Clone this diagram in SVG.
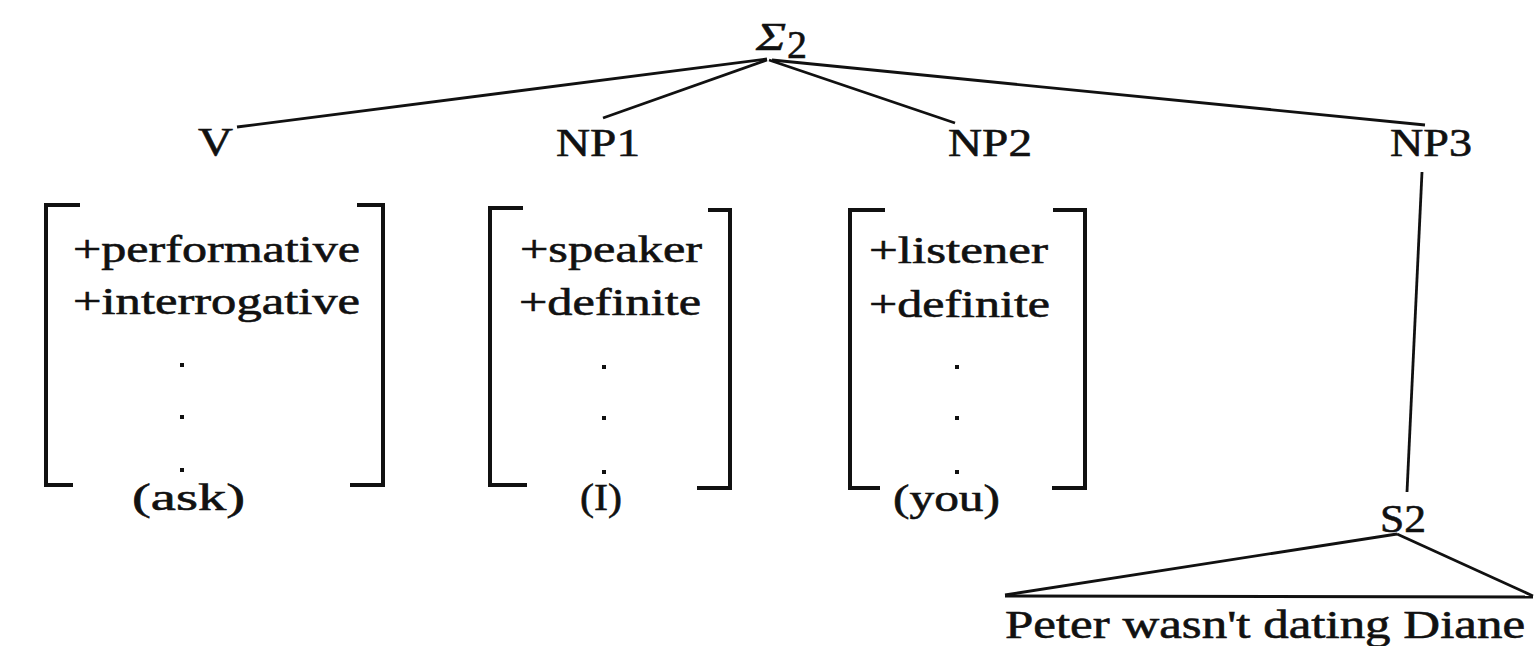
<svg xmlns="http://www.w3.org/2000/svg" width="1536" height="646" viewBox="0 0 1536 646">
<style>
.t{font-family:"Liberation Serif","DejaVu Serif",serif;fill:#111;stroke:#111;stroke-width:0.6;font-size:40px}
.f{font-size:38px}
.br{fill:none;stroke:#111;stroke-width:4}
.ln{stroke:#111;stroke-width:2.8;fill:none}
.dot{fill:#111}
</style>
<rect width="1536" height="646" fill="#fff"/>
<g id="connectors">
<line class="ln" x1="767" y1="59" x2="237" y2="127"/>
<line class="ln" x1="767" y1="60" x2="603" y2="118" stroke-width="4"/>
<line class="ln" x1="769" y1="60" x2="955" y2="123"/>
<line class="ln" x1="772" y1="60" x2="1425" y2="125"/>
<line class="ln" x1="1422" y1="172" x2="1407" y2="492"/>
<line class="ln" x1="1397" y1="534" x2="1005" y2="595" stroke-width="3"/>
<line class="ln" x1="1397" y1="534" x2="1533" y2="596"/>
<line class="ln" x1="1005" y1="596" x2="1533" y2="597"/>
</g>
<g id="sigma2">
<text class="t" x="756" y="50" font-style="italic" font-size="36" textLength="30" lengthAdjust="spacingAndGlyphs">Σ</text>
<text class="t" x="787" y="58" font-size="20">2</text>
</g>
<g id="V"><text class="t" x="198" y="155" textLength="35" lengthAdjust="spacingAndGlyphs">V</text></g>
<g id="NP1"><text class="t" x="556" y="156" textLength="84" lengthAdjust="spacingAndGlyphs">NP1</text></g>
<g id="NP2"><text class="t" x="948" y="156" textLength="84" lengthAdjust="spacingAndGlyphs">NP2</text></g>
<g id="NP3"><text class="t" x="1390" y="156" textLength="82" lengthAdjust="spacingAndGlyphs">NP3</text></g>
<g id="matrixV">
<path class="br" d="M80 205 H46 V485 H73"/>
<path class="br" d="M357 205 H383 V485 H350"/>
<text class="t f" x="73" y="262" textLength="287" lengthAdjust="spacingAndGlyphs">+performative</text>
<text class="t f" x="73" y="314" textLength="287" lengthAdjust="spacingAndGlyphs">+interrogative</text>
<rect class="dot" x="180" y="363" width="4" height="4"/>
<rect class="dot" x="180" y="415" width="4" height="4"/>
<rect class="dot" x="180" y="468" width="4" height="4"/>
<text class="t f" x="132" y="510" textLength="113" lengthAdjust="spacingAndGlyphs">(ask)</text>
</g>
<g id="matrixNP1">
<path class="br" d="M523 208 H490 V485 H527"/>
<path class="br" d="M708 210 H730 V488 H697"/>
<text class="t f" x="520" y="262" textLength="182" lengthAdjust="spacingAndGlyphs">+speaker</text>
<text class="t f" x="519" y="315" textLength="182" lengthAdjust="spacingAndGlyphs">+definite</text>
<rect class="dot" x="602" y="365" width="4" height="4"/>
<rect class="dot" x="602" y="416" width="4" height="4"/>
<rect class="dot" x="602" y="470" width="4" height="4"/>
<text class="t f" x="580" y="510" textLength="42" lengthAdjust="spacingAndGlyphs">(I)</text>
</g>
<g id="matrixNP2">
<path class="br" d="M885 210 H850 V488 H880"/>
<path class="br" d="M1053 210 H1085 V488 H1052"/>
<text class="t f" x="869" y="263" textLength="179" lengthAdjust="spacingAndGlyphs">+listener</text>
<text class="t f" x="869" y="317" textLength="181" lengthAdjust="spacingAndGlyphs">+definite</text>
<rect class="dot" x="955" y="365" width="4" height="4"/>
<rect class="dot" x="955" y="416" width="4" height="4"/>
<rect class="dot" x="955" y="470" width="4" height="4"/>
<text class="t f" x="893" y="511" textLength="107" lengthAdjust="spacingAndGlyphs">(you)</text>
</g>
<g id="S2"><text class="t" x="1380" y="532" textLength="46" lengthAdjust="spacingAndGlyphs">S2</text></g>
<g id="sentence"><text class="t" x="1005" y="638" textLength="520" lengthAdjust="spacingAndGlyphs">Peter wasn't dating Diane</text></g>
</svg>
